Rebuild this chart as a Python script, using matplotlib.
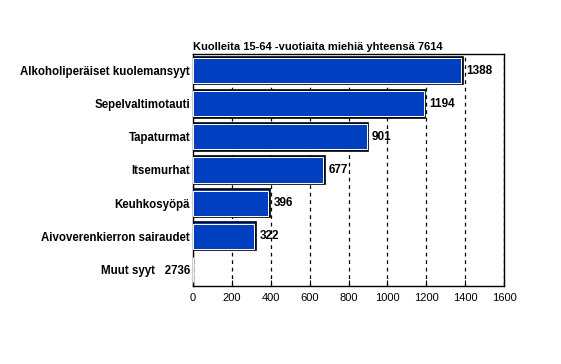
import numpy as np
import matplotlib.pyplot as plt

categories = ["Alkoholiperäiset kuolemansyyt", "Sepelvaltimotauti", "Tapaturmat",
              "Itsemurhat", "Keuhkosyöpä", "Aivoverenkierron sairaudet", "Muut syyt   2736"]
values = [1388, 1194, 901, 677, 396, 322, np.nan]
xticks = [0, 200, 400, 600, 800, 1000, 1200, 1400, 1600]
title = "Kuolleita 15-64 -vuotiaita miehiä yhteensä 7614"

plt.rcParams['font.family'] = ['Liberation Sans', 'DejaVu Sans']

fig = plt.figure(figsize=(5.61, 3.64), dpi=100)
ax = fig.add_axes([193 / 561, 1 - 286 / 364, (504 - 193) / 561, (286 - 54) / 364])

y = np.arange(len(categories))
vals = np.nan_to_num(values)
ax.barh(y, vals, height=0.84, color='#0040c0', edgecolor='black', linewidth=1.2, zorder=3)
# white highlight just inside the black edge
ax.barh(y, np.maximum(vals - 8, 0), height=0.76, color='none',
        edgecolor='white', linewidth=0.7, zorder=4)

for yi, v in zip(y, values):
    if not np.isnan(v):
        ax.text(v + 20, yi, str(int(v)), va='center', ha='left', fontsize=8.5, fontweight='bold')

ax.set_xlim(0, 1600)
ax.set_ylim(len(categories) - 0.5, -0.5)
ax.set_xticks(xticks)
ax.set_xticklabels([str(t) for t in xticks], fontsize=8)
ax.set_yticks(y)
ax.set_yticklabels(categories, fontsize=8.3, fontweight='bold')
ax.tick_params(axis='y', length=0, pad=2)
ax.tick_params(axis='x', direction='in', length=4, pad=5)
ax.grid(axis='x', color='black', linestyle=(0, (3, 3)), linewidth=0.9, zorder=0)
for s in ax.spines.values():
    s.set_linewidth(1.0)

ax.set_title(title, loc='left', fontsize=8, fontweight='bold', pad=3)

fig.savefig('out.png', dpi=100)
